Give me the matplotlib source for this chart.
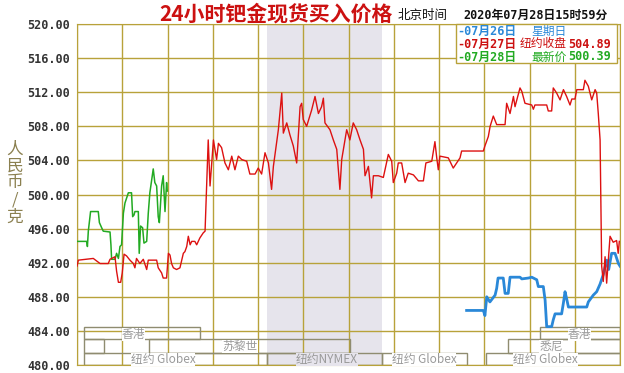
import matplotlib
matplotlib.use('Agg')
import matplotlib.pyplot as plt
from matplotlib.patches import Rectangle

plt.rcParams['font.family'] = ['Noto Sans CJK SC', 'DejaVu Sans']

# 07月27日 (hours from chart start, price)
red_t = [0.0, 0.06, 0.72, 0.87, 1.02, 1.38, 1.46, 1.68, 1.75, 1.83, 1.93, 2.0, 2.08, 2.19,
         2.34, 2.49, 2.56, 2.63, 2.78, 2.93, 3.08, 3.15, 3.52, 3.59, 3.74, 3.81, 3.96, 4.04,
         4.11, 4.18, 4.26, 4.4, 4.55, 4.63, 4.7, 4.77, 4.85, 4.92, 5.0, 5.07, 5.21, 5.29,
         5.43, 5.58, 5.66, 5.73, 5.80, 5.88, 6.03, 6.17, 6.25, 6.39, 6.54, 6.69, 6.84, 6.98,
         7.13, 7.28, 7.5, 7.64, 7.87, 8.01, 8.16, 8.31, 8.46, 8.6, 8.68, 8.90, 9.05, 9.12,
         9.27, 9.41, 9.56, 9.71, 9.86, 9.93, 10.0, 10.15, 10.37, 10.52, 10.67, 10.81, 10.89,
         10.96, 11.18, 11.33, 11.48, 11.62, 11.70, 11.92, 12.06, 12.21, 12.36, 12.51, 12.66,
         12.73, 12.88, 13.02, 13.10, 13.32, 13.54, 13.76, 13.91, 13.98, 14.13, 14.2, 14.35,
         14.5, 14.64, 14.87, 15.09, 15.31, 15.42, 15.68, 15.82, 15.90, 15.97, 16.04, 16.41,
         16.63, 16.78, 16.93, 17.0, 17.96, 18.03, 18.18, 18.26, 18.40, 18.55, 18.92, 18.99,
         19.14, 19.29, 19.36, 19.58, 19.66, 19.80, 20.10, 20.17, 20.24, 20.76, 20.83, 20.98,
         21.05, 21.20, 21.35, 21.5, 21.64, 21.79, 21.87, 22.01, 22.09, 22.38, 22.45, 22.6,
         22.75, 22.9, 22.97, 23.04, 23.12, 23.14, 23.19, 23.26, 23.34, 23.41, 23.56, 23.7,
         23.85, 23.92, 23.97]
red_p = [491.6, 492.3, 492.5, 492.2, 491.9, 491.9, 492.4, 492.7, 491.0, 489.7, 489.7, 490.8,
         493.0, 492.8, 492.3, 491.9, 491.4, 492.5, 491.9, 492.4, 491.2, 492.3, 492.3, 491.4,
         490.8, 490.2, 490.2, 493.1, 492.9, 491.9, 491.4, 491.2, 491.4, 492.3, 493.1, 493.3,
         493.9, 495.1, 494.1, 494.5, 494.5, 494.1, 494.9, 495.5, 495.7, 501.0, 506.4, 501.0,
         506.4, 504.1, 506.0, 505.5, 503.7, 502.9, 504.5, 502.9, 504.5, 504.1, 503.9, 502.4,
         502.4, 503.1, 502.4, 504.9, 503.7, 500.6, 503.3, 507.6, 511.9, 507.2, 508.4, 507.0,
         505.7, 503.7, 510.3, 510.7, 508.8, 508.0, 509.9, 511.5, 509.5, 510.3, 511.3, 508.4,
         507.6, 506.4, 505.3, 500.6, 504.1, 507.6, 506.4, 508.4, 507.6, 506.4, 505.3, 502.2,
         503.3, 499.6, 502.2, 502.2, 502.0, 504.7, 503.9, 501.4, 502.5, 503.7, 503.7, 501.4,
         502.5, 502.3, 501.6, 501.6, 503.7, 503.9, 506.2, 504.3, 502.9, 504.5, 504.3, 503.1,
         503.7, 504.3, 505.1, 505.1, 505.7, 506.8, 508.0, 509.2, 508.2, 508.2, 510.7, 509.5,
         511.5, 510.3, 512.5, 512.1, 510.7, 510.5, 510.0, 510.5, 510.5, 509.8, 509.8, 512.5,
         511.9, 511.1, 512.3, 511.5, 510.5, 511.2, 511.2, 512.3, 512.3, 513.4, 512.7, 511.1,
         512.3, 511.9, 509.5, 506.4, 502.4, 491.6, 489.8, 492.7, 489.6, 495.1, 494.4, 494.6,
         493.1, 494.5]

# 07月26日
blue_t = [17.22, 17.96, 18.03, 18.11, 18.25, 18.48, 18.55, 18.61, 18.84, 18.92, 19.06, 19.14,
          19.58, 19.66, 19.95, 20.1, 20.32, 20.39, 20.61, 20.69, 20.76, 20.98, 21.05, 21.13,
          21.42, 21.5, 21.57, 21.64, 21.72, 22.53, 22.6, 22.82, 22.97, 23.12, 23.26, 23.41,
          23.5, 23.63, 23.78, 23.93, 24.0]
blue_p = [486.4, 486.4, 485.8, 488.0, 487.4, 488.2, 489.0, 490.2, 490.2, 488.4, 488.4, 490.3,
          490.3, 490.1, 490.2, 490.3, 490.0, 489.2, 489.2, 487.6, 484.5, 484.5, 485.3, 486.0,
          486.0, 487.3, 488.6, 487.8, 486.8, 486.8, 487.4, 488.2, 488.6, 489.5, 490.6, 492.3,
          491.2, 493.1, 493.1, 491.9, 491.6]

# 07月28日
green_t = [0.0, 0.43, 0.46, 0.50, 0.60, 0.94, 0.99, 1.09, 1.16, 1.46, 1.50, 1.53, 1.68, 1.75,
           1.83, 1.90, 1.97, 2.05, 2.12, 2.27, 2.41, 2.46, 2.52, 2.56, 2.71, 2.75, 2.81, 2.90,
           2.96, 3.08, 3.15, 3.22, 3.37, 3.44, 3.52, 3.59, 3.64, 3.74, 3.81, 3.89, 3.96, 3.99]
green_p = [494.5, 494.5, 493.9, 495.7, 498.0, 498.0, 496.7, 496.1, 495.7, 495.6, 494.1, 492.4,
           492.4, 493.1, 492.5, 493.9, 494.1, 497.8, 499.0, 500.2, 500.2, 497.4, 497.6, 498.0,
           498.0, 493.1, 496.3, 496.1, 494.3, 494.5, 497.8, 500.2, 503.0, 501.4, 501.0, 497.4,
           496.7, 501.0, 502.2, 498.0, 501.4, 500.4]

y_ticks = [480, 484, 488, 492, 496, 500, 504, 508, 512, 516, 520]

# trading sessions
sess_name = ['香港', '', '苏黎世', '纽约 Globex', '纽约NYMEX', '纽约 Globex', '纽约 Globex', '悉尼', '香港']
sess_start = [0.3, 0.3, 3.2, 0.3, 8.4, 13.48, 18.08, 19.05, 20.46]
sess_end = [5.44, 1.2, 12.07, 8.4, 13.48, 17.24, 24.0, 24.0, 24.0]
sess_label = [2.5, 0.0, 7.2, 3.8, 11.05, 15.34, 20.7, 20.95, 22.2]
sess_row = [0, 1, 1, 2, 2, 2, 2, 1, 0]
row_lo = [483.0, 481.45, 480.0]
row_hi = [484.45, 483.0, 481.45]

grid_c = '#b8a23a'
shade_c = '#e6e4ec'
mono_cjk = ['DejaVu Sans Mono', 'Noto Sans CJK SC']

fig = plt.figure(figsize=(6.24, 3.73), dpi=100)
ax = fig.add_axes([77/624, 8/373, 543/624, 341/373])

ax.axvspan(8.4, 13.48, color=shade_c, zorder=0.5, lw=0)
ax.set_xlim(0, 24)
ax.set_ylim(480, 520)
ax.set_xticks(range(0, 25, 2))
ax.set_yticks(y_ticks)
ax.set_yticklabels(['%.2f' % v for v in y_ticks], family='DejaVu Sans Mono',
                   fontweight='bold', fontsize=8.5, color='#333333')
ax.tick_params(axis='x', length=0, labelbottom=False)
ax.tick_params(axis='y', length=0, pad=5)
ax.grid(True, color=grid_c, lw=1, zorder=1)
for s in ax.spines.values():
    s.set_color(grid_c)

for i in range(len(sess_name)):
    r = sess_row[i]
    ax.add_patch(Rectangle((sess_start[i], row_lo[r]), sess_end[i] - sess_start[i],
                           row_hi[r] - row_lo[r], fill=False, ec='#8f8c70', lw=1, zorder=2))
    if sess_name[i]:
        bg = shade_c if sess_name[i] == '纽约NYMEX' else 'white'
        ax.text(sess_label[i], (row_lo[r] + row_hi[r]) / 2 - 0.1, sess_name[i], ha='center',
                va='center', fontsize=8.5, color='#9a9a9a', zorder=3,
                bbox=dict(fc=bg, ec='none', pad=0))

ax.plot(blue_t, blue_p, color='#2a88d8', lw=2, zorder=4)
ax.plot(green_t, green_p, color='#22aa22', lw=1.1, zorder=5)
ax.plot(red_t, red_p, color='#dd1111', lw=1.0, zorder=6)

def fx(px):
    return px / 624

def fy(py):
    return 1 - py / 373

fig.text(fx(276), fy(14), '24小时钯金现货买入价格', ha='center', va='center',
         fontsize=15, fontweight='bold', color='#cc1111')
fig.text(fx(398), fy(15), '北京时间', ha='left', va='center', fontsize=9, color='#111111')
fig.text(fx(463), fy(15), '2020年07月28日15时59分', ha='left', va='center', fontsize=8.5,
         family=mono_cjk, fontweight='bold', color='#111111')

fig.text(fx(15), fy(183), '\n'.join('人民币/克'), ha='center', va='center', fontsize=12,
         color='#8b8050', linespacing=1.0)

fig.patches.append(Rectangle((fx(456), fy(63)), fx(161), 39/373, transform=fig.transFigure,
                             fc='white', ec=grid_c, lw=1, zorder=10))
leg_colors = ['#2a88d8', '#cc1111', '#22aa22']
leg_dates = ['-07月26日', '-07月27日', '-07月28日']
leg_names = ['星期日', '纽约收盘', '最新价']
leg_vals = ['', '504.89', '500.39']
leg_y = [31, 44, 57]
for i in range(3):
    fig.text(fx(457), fy(leg_y[i]), leg_dates[i], ha='left', va='center', fontsize=8.5,
             family=mono_cjk, fontweight='bold', color=leg_colors[i], zorder=11)
    fig.text(fx(567), fy(leg_y[i]), leg_names[i], ha='right', va='center', fontsize=8.5,
             color=leg_colors[i], zorder=11)
    if leg_vals[i]:
        fig.text(fx(568), fy(leg_y[i]), leg_vals[i], ha='left', va='center', fontsize=8.5,
                 family='DejaVu Sans Mono', fontweight='bold', color=leg_colors[i], zorder=11)

fig.savefig('out.png', dpi=100)
